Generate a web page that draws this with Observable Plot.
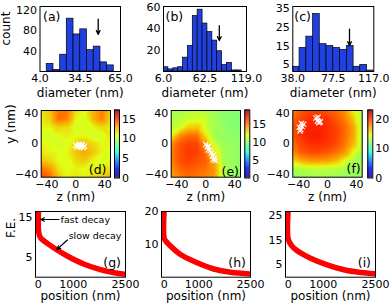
<!DOCTYPE html>
<html><head><meta charset="utf-8">
<script src="https://cdn.jsdelivr.net/npm/d3@7"></script>
<script src="https://cdn.jsdelivr.net/npm/@observablehq/plot@0.6"></script>
<style>
html,body{margin:0;padding:0;background:#fff;}
#fig{position:relative;width:392px;height:306px;overflow:hidden;background:#fff;}
</style></head><body><div id="fig"></div>
<script>
// ---------- data ----------
// histograms (bin edges, counts, arrow marker)
const aEdges = [4, 9.1, 14.2, 19.3, 24.3, 29.4, 34.5, 39.6, 44.7, 49.8, 54.8, 59.9, 65];
const aCounts = [0, 15, 3, 33, 104, 73, 83, 42, 49, 18, 12, 0];
const aTicks = [4, 34.5, 65];
const aArrow = {x: 48.1, from: 103, to: 73};

const bEdges = [6, 12.6, 19.3, 25.9, 32.6, 39.2, 45.9, 52.5, 59.2, 65.8, 72.5, 79.1, 85.8, 92.4, 99.1, 105.7, 112.4, 119];
const bCounts = [4, 2, 3, 4, 13, 24, 52, 58, 45, 37, 29, 19, 6, 8, 1, 1, 0];
const bTicks = [6, 62.5, 119];
const bArrow = {x: 82, from: 43, to: 29};

const cEdges = [38, 44.6, 51.2, 57.8, 64.3, 70.9, 77.5, 84.1, 90.7, 97.3, 103.8, 110.4, 117];
const cCounts = [4, 14, 20, 32, 16, 15, 14, 13, 15, 4, 5, 2];
const cTicks = [38, 77.5, 117];
const cArrow = {x: 93.3, from: 24, to: 15.2};

// heat maps: grid coordinates (z across, y rows from top to bottom)
const zGrid = [-48, -36, -24, -12, 0, 12, 24, 36, 48];
const yGrid = [44, 33, 22, 11, 0, -11, -22, -33, -44];
const heatD = [
  [11.3, 12.0, 13.6, 13.6, 11.5, 10.8, 12.3, 13.5, 12.0],
  [11.0, 11.8, 13.8, 13.4, 11.0, 10.4, 12.4, 13.4, 11.6],
  [10.9, 11.0, 11.8, 11.6, 10.4, 10.6, 11.0, 11.6, 11.0],
  [10.6, 10.4, 10.9, 11.2, 10.8, 11.0, 10.4, 10.6, 11.3],
  [11.0, 10.8, 10.4, 10.6, 11.6, 12.2, 11.6, 10.9, 11.0],
  [11.3, 11.0, 10.8, 11.0, 12.0, 12.6, 12.0, 11.0, 10.6],
  [12.0, 11.6, 10.8, 10.6, 11.6, 12.0, 11.0, 10.4, 10.9],
  [13.6, 13.0, 11.4, 10.8, 11.0, 10.8, 11.0, 11.3, 11.5],
  [14.5, 13.8, 12.0, 11.0, 11.3, 11.0, 11.5, 11.7, 12.4]
];
const heatE = [
  [10.5, 10.5, 10.8, 11.0, 10.8, 10.3, 10.0,  9.8,  9.6],
  [10.8, 11.0, 11.3, 11.5, 11.2, 10.5, 10.0,  9.8,  9.6],
  [11.0, 11.5, 13.0, 13.2, 11.5, 10.5, 10.2,  9.8,  9.8],
  [12.0, 14.5, 15.2, 15.2, 12.5, 10.5, 10.2, 10.0, 10.0],
  [14.5, 15.6, 16.1, 16.0, 14.5, 11.2, 10.3, 10.2, 10.0],
  [14.8, 15.8, 16.3, 16.1, 15.3, 12.5, 10.5, 10.3, 10.0],
  [14.8, 15.8, 16.1, 15.8, 15.5, 14.0, 10.5, 10.3, 10.0],
  [14.5, 15.3, 15.6, 15.3, 15.1, 14.3, 10.8, 10.3, 10.0],
  [14.0, 14.8, 15.3, 15.0, 14.8, 14.3, 11.0, 10.3, 10.0]
];
const heatF = [
  [18.0, 19.0, 19.5, 19.5, 19.0, 18.5, 17.5, 14.5, 12.5],
  [18.5, 19.5, 20.0, 20.0, 19.8, 19.0, 18.0, 16.0, 13.0],
  [19.0, 20.0, 20.3, 20.3, 20.0, 19.5, 18.5, 17.0, 13.0],
  [19.0, 20.0, 20.5, 20.5, 20.0, 19.5, 18.5, 17.0, 13.0],
  [18.5, 19.5, 20.0, 20.0, 19.8, 19.3, 18.2, 16.5, 13.0],
  [17.8, 19.0, 19.3, 19.3, 19.0, 18.5, 17.5, 14.5, 12.8],
  [15.5, 17.0, 17.5, 17.5, 17.3, 16.5, 14.5, 13.0, 12.5],
  [13.0, 13.2, 13.5, 13.5, 13.5, 13.2, 12.8, 12.5, 12.5],
  [12.5, 12.5, 12.8, 12.8, 12.8, 12.6, 12.5, 12.5, 12.5]
];
const heatMax = {d: 17.3, e: 19.1, f: 23.2};
const cbarTicks = {d: [0, 5, 10, 15], e: [0, 5, 10, 15], f: [0, 10, 20]};
const posTicksZ = [-40, 0, 40];

// crosses (z, y)
const crossDz = [0, 2, 4, 6, 8, 10, 12, 5, 9];
const crossDy = [-2, -4, -1.5, -4.5, -2, -5, -3, -1, -1];
const crossEz = [0, 2, 4, 3, 6, 8, 9, 11, 12, 13, 10];
const crossEy = [-1, -4, -3, -8, -9, -12, -16, -14, -19, -22, -21];
const crossFz = [-39, -37, -35, -33, -36, -38, -16, -14, -12, -10, -13];
const crossFy = [22, 19, 23, 26, 27, 17, 34, 30, 28, 29, 35];

// field-enhancement profiles
const gPos = [10, 10, 60, 200, 450, 830, 1300, 1780, 2260, 2500];
const gFE  = [17.5, 11.3, 9.9, 8.8, 7.3, 5.3, 3.3, 1.9, 1.0, 0.7];
const hPos = [0, 0, 60, 130, 470, 955, 1436, 1920, 2500];
const hFE  = [21, 11.8, 10.8, 10.0, 6.9, 4.4, 2.5, 1.5, 1.0];
const iPos = [0, 0, 100, 255, 637, 1115, 1591, 2070, 2500];
const iFE  = [28, 15.3, 12.7, 10.7, 7.7, 5.0, 3.0, 1.9, 1.4];
const posTicks = [0, 1000, 2500];
const annotFast = {x1: 590, x2: 70, y: 14.4, tx: 640, ty: 14.4, text: "fast decay"};
const annotSlow = {x1: 835, y1: 9.3, x2: 530, y2: 6.9, tx: 870, ty: 10.2, text: "slow decay"};

const jetColors = ["#000080", "#0000ff", "#0080ff", "#14ffe2", "#7bff7b", "#e2ff14", "#ff9700", "#ff2100", "#800000"];
const barBlue = "#2040e0";

// ---------- helpers ----------
const fig = document.getElementById("fig");
const W = 392, H = 306;
const FONT = "DejaVu Sans";
function panel(box, opts) {
  const [l, t, r, b] = box;
  const svg = Plot.plot({
    width: W, height: H,
    marginLeft: l, marginTop: t, marginRight: W - r, marginBottom: H - b,
    style: {background: "none", overflow: "visible", fontFamily: FONT, fontSize: "11px", color: "black",
            position: "absolute", left: "0px", top: "0px"},
    ...opts
  });
  fig.appendChild(svg);
}
const title = (s, o) => Plot.text([s], {text: d => d, fontSize: 12, ...o});
const plabel = (s, o) => Plot.text([s], {text: d => d, fontSize: 12.5, ...o});
const jetScale = max => ({type: "linear", domain: jetColors.map((_, i) => i * max / (jetColors.length - 1)),
  range: jetColors, interpolate: "rgb", clamp: true});

function hist(box, edges, counts, ticks, ydom, yticks, arrow, lab, extra) {
  const bars = counts.map((c, i) => ({x1: edges[i], x2: edges[i + 1], c})).filter(d => d.c > 0);
  panel(box, {
    x: {domain: [ticks[0], ticks[2]]},
    y: {domain: ydom},
    marks: [
      Plot.rect(bars, {x1: "x1", x2: "x2", y1: () => 0, y2: "c", fill: barBlue, stroke: "black", strokeWidth: 0.7, clip: true}),
      Plot.arrow([arrow], {x1: "x", x2: "x", y1: "from", y2: "to", stroke: "black", strokeWidth: 1.3, headLength: 5, headAngle: 50}),
      plabel(lab.text, {frameAnchor: "top-left", textAnchor: "start", lineAnchor: "bottom", dx: lab.dx, dy: 14}),
      Plot.axisX(ticks, {tickSize: 0, tickPadding: 3, tickFormat: d3.format(".1f"), label: null}),
      Plot.axisY(yticks, {tickSize: 0, tickPadding: 3, label: null}),
      title("diameter (nm)", {frameAnchor: "bottom", lineAnchor: "bottom", dy: 25}),
      ...(extra || []),
      Plot.frame({stroke: "black"})
    ]
  });
}

function heat(box, grid, max, cz, cy, lab, extra) {
  const cells = [];
  yGrid.forEach((y, i) => zGrid.forEach((z, j) => cells.push({z, y, v: grid[i][j]})));
  const crosses = cz.map((z, i) => ({z, y: cy[i]}));
  panel(box, {
    x: {domain: [-48, 48]}, y: {domain: [-44, 44]},
    color: jetScale(max),
    marks: [
      Plot.raster(cells, {x: "z", y: "y", fill: "v", interpolate: "barycentric", x1: -48, x2: 48, y1: -44, y2: 44}),
      Plot.dot(crosses, {x: "z", y: "y", symbol: "times", stroke: "white", r: 2.5, strokeWidth: 1.1}),
      plabel(lab.text, {frameAnchor: "bottom-right", textAnchor: "end", lineAnchor: "bottom", dx: lab.dx, dy: lab.dy}),
      Plot.axisX(posTicksZ, {tickSize: 0, tickPadding: 2.5, label: null}),
      Plot.axisY(posTicksZ, {tickSize: 0, tickPadding: 3, label: null}),
      title("z (nm)", {frameAnchor: "bottom", lineAnchor: "bottom", dy: 23.5}),
      ...(extra || []),
      Plot.frame({stroke: "black"})
    ]
  });
}

function colorbar(box, max, ticks) {
  const step = max / 120;
  const stripes = d3.range(0, max, step);
  panel(box, {
    x: {domain: [0, 1], axis: null},
    y: {domain: [0, max]},
    color: jetScale(max),
    marks: [
      Plot.rect(stripes, {x1: () => 0, x2: () => 1, y1: d => d, y2: d => Math.min(max, d + step * 1.2), fill: d => d + step / 2}),
      Plot.axisY(ticks, {anchor: "right", tickSize: 0, tickPadding: 2.5, label: null}),
      Plot.frame({stroke: "black"})
    ]
  });
}

function profile(box, pos, fe, ydom, yticks, lab, extra) {
  const pts = pos.map((x, i) => ({x, y: fe[i]}));
  panel(box, {
    x: {domain: [-80, 2500]}, y: {domain: ydom},
    marks: [
      Plot.line(pts, {x: "x", y: "y", stroke: "#ff0000", strokeWidth: 5.5, curve: "catmull-rom", clip: true}),
      plabel(lab.text, {frameAnchor: "bottom-right", textAnchor: "end", lineAnchor: "bottom", dx: -4.5, dy: -10}),
      Plot.axisX(posTicks, {tickSize: 0, tickPadding: 2.5, tickFormat: d3.format("d"), label: null}),
      Plot.axisY(yticks, {tickSize: 0, tickPadding: 3, label: null}),
      title("position (nm)", {frameAnchor: "bottom", lineAnchor: "bottom", dy: 23}),
      ...(extra || []),
      Plot.frame({stroke: "black"})
    ]
  });
}

// ---------- row 1: histograms ----------
hist([39.5, 6, 120, 71], aEdges, aCounts, aTicks, [0, 128], [40, 80, 120], aArrow, {text: "(a)", dx: 3},
  [title("count", {frameAnchor: "left", rotate: -90, dx: -33.5, dy: 6.5})]);
hist([163, 6, 246, 71], bEdges, bCounts, bTicks, [0, 61], [20, 40, 60], bArrow, {text: "(b)", dx: 2});
hist([292.3, 6, 373.3, 71], cEdges, cCounts, cTicks, [1.5, 36], [5, 15, 25, 35], cArrow, {text: "(c)", dx: 1.5});

// ---------- row 2: heat maps ----------
heat([40.7, 110, 110, 176.7], heatD, heatMax.d, crossDz, crossDy, {text: "(d)", dx: -4, dy: -3.4},
  [title("y (nm)", {frameAnchor: "left", rotate: -90, dx: -30, dy: 0})]);
colorbar([114, 109.5, 119, 177.5], heatMax.d, cbarTicks.d);
heat([170.7, 110, 240, 176.7], heatE, heatMax.e, crossEz, crossEy, {text: "(e)", dx: -1.5, dy: -1.7});
colorbar([244.3, 109.5, 249.3, 177.5], heatMax.e, cbarTicks.e);
heat([292.3, 110, 361.7, 176.7], heatF, heatMax.f, crossFz, crossFy, {text: "(f)", dx: -1.5, dy: -4.4});
colorbar([367.3, 109.5, 372.3, 177.5], heatMax.f, cbarTicks.f);

// ---------- row 3: profiles ----------
profile([35, 211, 125, 276.7], gPos, gFE, [0, 16.4], [5, 15], {text: "(g)"}, [
  title("F.E.", {frameAnchor: "left", rotate: -90, dx: -24, dy: -6.3}),
  Plot.arrow([annotFast], {x1: "x1", x2: "x2", y1: "y", y2: "y", stroke: "black", strokeWidth: 1.2, headLength: 5, headAngle: 50}),
  Plot.text([annotFast], {x: "tx", y: "ty", text: "text", textAnchor: "start", fontSize: 9.5}),
  Plot.arrow([annotSlow], {x1: "x1", x2: "x2", y1: "y1", y2: "y2", stroke: "black", strokeWidth: 1.2, headLength: 5, headAngle: 50}),
  Plot.text([annotSlow], {x: "tx", y: "ty", text: "text", textAnchor: "start", fontSize: 9.5})
]);
profile([161, 211, 250, 276.7], hPos, hFE, [0, 20], [10, 20], {text: "(h)"});
profile([285, 211, 375, 276.7], iPos, iFE, [0, 26.6], [5, 15, 25], {text: "(i)"});
</script></body></html>
